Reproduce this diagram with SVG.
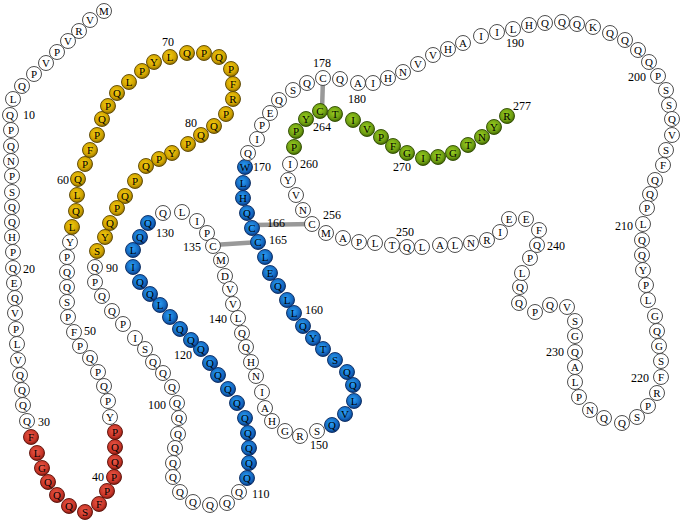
<svg xmlns="http://www.w3.org/2000/svg" width="680" height="520" viewBox="0 0 680 520" font-family="'Liberation Serif', 'DejaVu Serif', serif">
<defs>
<radialGradient id="gy" cx="45%" cy="40%" r="60%"><stop offset="0" stop-color="#f5cc10"/><stop offset="0.7" stop-color="#cfa200"/><stop offset="1" stop-color="#8a6a00"/></radialGradient>
<radialGradient id="gb" cx="45%" cy="40%" r="60%"><stop offset="0" stop-color="#2aa0f5"/><stop offset="0.7" stop-color="#1468c0"/><stop offset="1" stop-color="#0a3a80"/></radialGradient>
<radialGradient id="gr" cx="45%" cy="40%" r="60%"><stop offset="0" stop-color="#ec5a48"/><stop offset="0.7" stop-color="#c83528"/><stop offset="1" stop-color="#801a10"/></radialGradient>
<radialGradient id="gg" cx="45%" cy="40%" r="60%"><stop offset="0" stop-color="#9ad020"/><stop offset="0.7" stop-color="#6e9e12"/><stop offset="1" stop-color="#3e6200"/></radialGradient>
<style>
circle{r:7.5px;stroke:#3a3a3a;stroke-width:0.9}
.w circle{fill:#fff}
.y circle{fill:url(#gy);stroke:#5a4500}
.b circle{fill:url(#gb);stroke:#0a2a60}
.r circle{fill:url(#gr);stroke:#5a1008}
.g circle{fill:url(#gg);stroke:#2e4a00}
text{font-family:"Liberation Serif","DejaVu Serif",serif;fill:#000}
.n text{font-size:11px;text-anchor:middle}
.lab text{font-size:12px}
.m{text-anchor:middle}
.e{text-anchor:end}
.bond{stroke:#999;stroke-width:4.5;stroke-linecap:butt}
</style>
</defs>
<rect width="680" height="520" fill="#fff"/>
<g id="connectors">
<line class="bond" x1="213" y1="245" x2="258" y2="242"/>
<line class="bond" x1="252" y1="225" x2="312" y2="224"/>
<line class="bond" x1="323" y1="78" x2="322" y2="111"/>
</g>
<g id="nodes">
<g id="r1" class="n w"><circle cx="104" cy="11"/><text x="104" y="15">M</text></g>
<g id="r2" class="n w"><circle cx="90" cy="20"/><text x="90" y="24">V</text></g>
<g id="r3" class="n w"><circle cx="79" cy="31"/><text x="79" y="35">R</text></g>
<g id="r4" class="n w"><circle cx="68" cy="41"/><text x="68" y="45">V</text></g>
<g id="r5" class="n w"><circle cx="57" cy="52"/><text x="57" y="56">P</text></g>
<g id="r6" class="n w"><circle cx="46" cy="63"/><text x="46" y="67">V</text></g>
<g id="r7" class="n w"><circle cx="34" cy="74"/><text x="34" y="78">P</text></g>
<g id="r8" class="n w"><circle cx="22" cy="86"/><text x="22" y="90">Q</text></g>
<g id="r9" class="n w"><circle cx="13" cy="99"/><text x="13" y="103">L</text></g>
<g id="r10" class="n w"><circle cx="10" cy="115"/><text x="10" y="119">Q</text></g>
<g id="r11" class="n w"><circle cx="11" cy="130"/><text x="11" y="134">P</text></g>
<g id="r12" class="n w"><circle cx="11" cy="146"/><text x="11" y="150">Q</text></g>
<g id="r13" class="n w"><circle cx="11" cy="161"/><text x="11" y="165">N</text></g>
<g id="r14" class="n w"><circle cx="12" cy="176"/><text x="12" y="180">P</text></g>
<g id="r15" class="n w"><circle cx="12" cy="192"/><text x="12" y="196">S</text></g>
<g id="r16" class="n w"><circle cx="12" cy="207"/><text x="12" y="211">Q</text></g>
<g id="r17" class="n w"><circle cx="12" cy="222"/><text x="12" y="226">Q</text></g>
<g id="r18" class="n w"><circle cx="12" cy="237"/><text x="12" y="241">H</text></g>
<g id="r19" class="n w"><circle cx="13" cy="252"/><text x="13" y="256">P</text></g>
<g id="r20" class="n w"><circle cx="13" cy="268"/><text x="13" y="272">Q</text></g>
<g id="r21" class="n w"><circle cx="14" cy="283"/><text x="14" y="287">E</text></g>
<g id="r22" class="n w"><circle cx="15" cy="298"/><text x="15" y="302">Q</text></g>
<g id="r23" class="n w"><circle cx="15" cy="313"/><text x="15" y="317">V</text></g>
<g id="r24" class="n w"><circle cx="16" cy="329"/><text x="16" y="333">P</text></g>
<g id="r25" class="n w"><circle cx="17" cy="344"/><text x="17" y="348">L</text></g>
<g id="r26" class="n w"><circle cx="18" cy="360"/><text x="18" y="364">V</text></g>
<g id="r27" class="n w"><circle cx="20" cy="375"/><text x="20" y="379">Q</text></g>
<g id="r28" class="n w"><circle cx="22" cy="390"/><text x="22" y="394">Q</text></g>
<g id="r29" class="n w"><circle cx="23" cy="405"/><text x="23" y="409">Q</text></g>
<g id="r30" class="n w"><circle cx="27" cy="421"/><text x="27" y="425">Q</text></g>
<g id="r31" class="n r"><circle cx="31" cy="437"/><text x="31" y="441">F</text></g>
<g id="r32" class="n r"><circle cx="37" cy="453"/><text x="37" y="457">L</text></g>
<g id="r33" class="n r"><circle cx="42" cy="468"/><text x="42" y="472">G</text></g>
<g id="r34" class="n r"><circle cx="48" cy="482"/><text x="48" y="486">Q</text></g>
<g id="r35" class="n r"><circle cx="57" cy="495"/><text x="57" y="499">Q</text></g>
<g id="r36" class="n r"><circle cx="69" cy="506"/><text x="69" y="510">Q</text></g>
<g id="r37" class="n r"><circle cx="85" cy="512"/><text x="85" y="516">S</text></g>
<g id="r38" class="n r"><circle cx="99" cy="504"/><text x="99" y="508">F</text></g>
<g id="r39" class="n r"><circle cx="107" cy="491"/><text x="107" y="495">P</text></g>
<g id="r40" class="n r"><circle cx="114" cy="477"/><text x="114" y="481">P</text></g>
<g id="r41" class="n r"><circle cx="115" cy="462"/><text x="115" y="466">Q</text></g>
<g id="r42" class="n r"><circle cx="115" cy="447"/><text x="115" y="451">Q</text></g>
<g id="r43" class="n r"><circle cx="115" cy="432"/><text x="115" y="436">P</text></g>
<g id="r44" class="n w"><circle cx="110" cy="417"/><text x="110" y="421">Y</text></g>
<g id="r45" class="n w"><circle cx="108" cy="401"/><text x="108" y="405">P</text></g>
<g id="r46" class="n w"><circle cx="104" cy="386"/><text x="104" y="390">Q</text></g>
<g id="r47" class="n w"><circle cx="98" cy="372"/><text x="98" y="376">P</text></g>
<g id="r48" class="n w"><circle cx="90" cy="358"/><text x="90" y="362">Q</text></g>
<g id="r49" class="n w"><circle cx="80" cy="346"/><text x="80" y="350">P</text></g>
<g id="r50" class="n w"><circle cx="74" cy="332"/><text x="74" y="336">F</text></g>
<g id="r51" class="n w"><circle cx="68" cy="317"/><text x="68" y="321">P</text></g>
<g id="r52" class="n w"><circle cx="67" cy="302"/><text x="67" y="306">S</text></g>
<g id="r53" class="n w"><circle cx="67" cy="287"/><text x="67" y="291">Q</text></g>
<g id="r54" class="n w"><circle cx="67" cy="272"/><text x="67" y="276">Q</text></g>
<g id="r55" class="n w"><circle cx="67" cy="257"/><text x="67" y="261">P</text></g>
<g id="r56" class="n w"><circle cx="70" cy="242"/><text x="70" y="246">Y</text></g>
<g id="r57" class="n y"><circle cx="72" cy="227"/><text x="72" y="231">L</text></g>
<g id="r58" class="n y"><circle cx="76" cy="211"/><text x="76" y="215">Q</text></g>
<g id="r59" class="n y"><circle cx="77" cy="195"/><text x="77" y="199">L</text></g>
<g id="r60" class="n y"><circle cx="78" cy="179"/><text x="78" y="183">Q</text></g>
<g id="r61" class="n y"><circle cx="85" cy="164"/><text x="85" y="168">P</text></g>
<g id="r62" class="n y"><circle cx="90" cy="150"/><text x="90" y="154">F</text></g>
<g id="r63" class="n y"><circle cx="97" cy="135"/><text x="97" y="139">P</text></g>
<g id="r64" class="n y"><circle cx="102" cy="119"/><text x="102" y="123">Q</text></g>
<g id="r65" class="n y"><circle cx="108" cy="106"/><text x="108" y="110">P</text></g>
<g id="r66" class="n y"><circle cx="117" cy="93"/><text x="117" y="97">Q</text></g>
<g id="r67" class="n y"><circle cx="129" cy="82"/><text x="129" y="86">L</text></g>
<g id="r68" class="n y"><circle cx="142" cy="71"/><text x="142" y="75">P</text></g>
<g id="r69" class="n y"><circle cx="154" cy="62"/><text x="154" y="66">Y</text></g>
<g id="r70" class="n y"><circle cx="170" cy="57"/><text x="170" y="61">L</text></g>
<g id="r71" class="n y"><circle cx="187" cy="53"/><text x="187" y="57">Q</text></g>
<g id="r72" class="n y"><circle cx="204" cy="53"/><text x="204" y="57">P</text></g>
<g id="r73" class="n y"><circle cx="219" cy="57"/><text x="219" y="61">Q</text></g>
<g id="r74" class="n y"><circle cx="231" cy="69"/><text x="231" y="73">P</text></g>
<g id="r75" class="n y"><circle cx="233" cy="84"/><text x="233" y="88">F</text></g>
<g id="r76" class="n y"><circle cx="233" cy="99"/><text x="233" y="103">R</text></g>
<g id="r77" class="n y"><circle cx="226" cy="114"/><text x="226" y="118">P</text></g>
<g id="r78" class="n y"><circle cx="214" cy="126"/><text x="214" y="130">Q</text></g>
<g id="r79" class="n y"><circle cx="201" cy="135"/><text x="201" y="139">Q</text></g>
<g id="r80" class="n y"><circle cx="188" cy="144"/><text x="188" y="148">P</text></g>
<g id="r81" class="n y"><circle cx="172" cy="153"/><text x="172" y="157">Y</text></g>
<g id="r82" class="n y"><circle cx="159" cy="159"/><text x="159" y="163">P</text></g>
<g id="r83" class="n y"><circle cx="146" cy="166"/><text x="146" y="170">Q</text></g>
<g id="r84" class="n y"><circle cx="135" cy="181"/><text x="135" y="185">P</text></g>
<g id="r85" class="n y"><circle cx="125" cy="196"/><text x="125" y="200">Q</text></g>
<g id="r86" class="n y"><circle cx="117" cy="208"/><text x="117" y="212">P</text></g>
<g id="r87" class="n y"><circle cx="110" cy="223"/><text x="110" y="227">Q</text></g>
<g id="r88" class="n y"><circle cx="105" cy="237"/><text x="105" y="241">Y</text></g>
<g id="r89" class="n y"><circle cx="97" cy="251"/><text x="97" y="255">S</text></g>
<g id="r90" class="n w"><circle cx="95" cy="267"/><text x="95" y="271">Q</text></g>
<g id="r91" class="n w"><circle cx="95" cy="282"/><text x="95" y="286">P</text></g>
<g id="r92" class="n w"><circle cx="102" cy="296"/><text x="102" y="300">Q</text></g>
<g id="r93" class="n w"><circle cx="112" cy="311"/><text x="112" y="315">Q</text></g>
<g id="r94" class="n w"><circle cx="123" cy="324"/><text x="123" y="328">P</text></g>
<g id="r95" class="n w"><circle cx="135" cy="338"/><text x="135" y="342">I</text></g>
<g id="r96" class="n w"><circle cx="145" cy="349"/><text x="145" y="353">S</text></g>
<g id="r97" class="n w"><circle cx="153" cy="362"/><text x="153" y="366">Q</text></g>
<g id="r98" class="n w"><circle cx="163" cy="373"/><text x="163" y="377">Q</text></g>
<g id="r99" class="n w"><circle cx="172" cy="387"/><text x="172" y="391">Q</text></g>
<g id="r100" class="n w"><circle cx="177" cy="403"/><text x="177" y="407">Q</text></g>
<g id="r101" class="n w"><circle cx="179" cy="418"/><text x="179" y="422">Q</text></g>
<g id="r102" class="n w"><circle cx="178" cy="434"/><text x="178" y="438">Q</text></g>
<g id="r103" class="n w"><circle cx="175" cy="448"/><text x="175" y="452">Q</text></g>
<g id="r104" class="n w"><circle cx="173" cy="463"/><text x="173" y="467">Q</text></g>
<g id="r105" class="n w"><circle cx="173" cy="477"/><text x="173" y="481">Q</text></g>
<g id="r106" class="n w"><circle cx="180" cy="492"/><text x="180" y="496">Q</text></g>
<g id="r107" class="n w"><circle cx="193" cy="502"/><text x="193" y="506">Q</text></g>
<g id="r108" class="n w"><circle cx="210" cy="505"/><text x="210" y="509">Q</text></g>
<g id="r109" class="n w"><circle cx="227" cy="503"/><text x="227" y="507">Q</text></g>
<g id="r110" class="n w"><circle cx="239" cy="492"/><text x="239" y="496">Q</text></g>
<g id="r111" class="n b"><circle cx="247" cy="478"/><text x="247" y="482">Q</text></g>
<g id="r112" class="n b"><circle cx="249" cy="463"/><text x="249" y="467">Q</text></g>
<g id="r113" class="n b"><circle cx="249" cy="448"/><text x="249" y="452">Q</text></g>
<g id="r114" class="n b"><circle cx="248" cy="433"/><text x="248" y="437">Q</text></g>
<g id="r115" class="n b"><circle cx="245" cy="418"/><text x="245" y="422">Q</text></g>
<g id="r116" class="n b"><circle cx="237" cy="403"/><text x="237" y="407">Q</text></g>
<g id="r117" class="n b"><circle cx="228" cy="389"/><text x="228" y="393">Q</text></g>
<g id="r118" class="n b"><circle cx="218" cy="375"/><text x="218" y="379">Q</text></g>
<g id="r119" class="n b"><circle cx="210" cy="363"/><text x="210" y="367">Q</text></g>
<g id="r120" class="n b"><circle cx="201" cy="349"/><text x="201" y="353">Q</text></g>
<g id="r121" class="n b"><circle cx="191" cy="340"/><text x="191" y="344">Q</text></g>
<g id="r122" class="n b"><circle cx="180" cy="329"/><text x="180" y="333">Q</text></g>
<g id="r123" class="n b"><circle cx="170" cy="317"/><text x="170" y="321">I</text></g>
<g id="r124" class="n b"><circle cx="160" cy="305"/><text x="160" y="309">L</text></g>
<g id="r125" class="n b"><circle cx="150" cy="294"/><text x="150" y="298">Q</text></g>
<g id="r126" class="n b"><circle cx="140" cy="282"/><text x="140" y="286">Q</text></g>
<g id="r127" class="n b"><circle cx="133" cy="267"/><text x="133" y="271">I</text></g>
<g id="r128" class="n b"><circle cx="133" cy="250"/><text x="133" y="254">L</text></g>
<g id="r129" class="n b"><circle cx="140" cy="237"/><text x="140" y="241">Q</text></g>
<g id="r130" class="n b"><circle cx="148" cy="223"/><text x="148" y="227">Q</text></g>
<g id="r131" class="n w"><circle cx="163" cy="213"/><text x="163" y="217">Q</text></g>
<g id="r132" class="n w"><circle cx="182" cy="212"/><text x="182" y="216">L</text></g>
<g id="r133" class="n w"><circle cx="197" cy="221"/><text x="197" y="225">I</text></g>
<g id="r134" class="n w"><circle cx="207" cy="233"/><text x="207" y="237">P</text></g>
<g id="r135" class="n w"><circle cx="213" cy="246"/><text x="213" y="250">C</text></g>
<g id="r136" class="n w"><circle cx="221" cy="260"/><text x="221" y="264">M</text></g>
<g id="r137" class="n w"><circle cx="225" cy="276"/><text x="225" y="280">D</text></g>
<g id="r138" class="n w"><circle cx="230" cy="289"/><text x="230" y="293">V</text></g>
<g id="r139" class="n w"><circle cx="233" cy="304"/><text x="233" y="308">V</text></g>
<g id="r140" class="n w"><circle cx="238" cy="318"/><text x="238" y="322">L</text></g>
<g id="r141" class="n w"><circle cx="242" cy="333"/><text x="242" y="337">Q</text></g>
<g id="r142" class="n w"><circle cx="246" cy="347"/><text x="246" y="351">Q</text></g>
<g id="r143" class="n w"><circle cx="251" cy="362"/><text x="251" y="366">H</text></g>
<g id="r144" class="n w"><circle cx="256" cy="376"/><text x="256" y="380">N</text></g>
<g id="r145" class="n w"><circle cx="262" cy="392"/><text x="262" y="396">I</text></g>
<g id="r146" class="n w"><circle cx="265" cy="408"/><text x="265" y="412">A</text></g>
<g id="r147" class="n w"><circle cx="272" cy="421"/><text x="272" y="425">H</text></g>
<g id="r148" class="n w"><circle cx="285" cy="431"/><text x="285" y="435">G</text></g>
<g id="r149" class="n w"><circle cx="300" cy="436"/><text x="300" y="440">R</text></g>
<g id="r150" class="n w"><circle cx="317" cy="431"/><text x="317" y="435">S</text></g>
<g id="r151" class="n b"><circle cx="332" cy="425"/><text x="332" y="429">Q</text></g>
<g id="r152" class="n b"><circle cx="345" cy="414"/><text x="345" y="418">V</text></g>
<g id="r153" class="n b"><circle cx="354" cy="401"/><text x="354" y="405">L</text></g>
<g id="r154" class="n b"><circle cx="353" cy="385"/><text x="353" y="389">Q</text></g>
<g id="r155" class="n b"><circle cx="347" cy="372"/><text x="347" y="376">Q</text></g>
<g id="r156" class="n b"><circle cx="335" cy="360"/><text x="335" y="364">S</text></g>
<g id="r157" class="n b"><circle cx="323" cy="349"/><text x="323" y="353">T</text></g>
<g id="r158" class="n b"><circle cx="313" cy="338"/><text x="313" y="342">Y</text></g>
<g id="r159" class="n b"><circle cx="303" cy="326"/><text x="303" y="330">Q</text></g>
<g id="r160" class="n b"><circle cx="294" cy="313"/><text x="294" y="317">L</text></g>
<g id="r161" class="n b"><circle cx="287" cy="300"/><text x="287" y="304">L</text></g>
<g id="r162" class="n b"><circle cx="278" cy="286"/><text x="278" y="290">Q</text></g>
<g id="r163" class="n b"><circle cx="270" cy="273"/><text x="270" y="277">E</text></g>
<g id="r164" class="n b"><circle cx="265" cy="257"/><text x="265" y="261">L</text></g>
<g id="r165" class="n b"><circle cx="258" cy="242"/><text x="258" y="246">C</text></g>
<g id="r166" class="n b"><circle cx="252" cy="228"/><text x="252" y="232">C</text></g>
<g id="r167" class="n b"><circle cx="247" cy="213"/><text x="247" y="217">Q</text></g>
<g id="r168" class="n b"><circle cx="243" cy="198"/><text x="243" y="202">H</text></g>
<g id="r169" class="n b"><circle cx="243" cy="183"/><text x="243" y="187">L</text></g>
<g id="r170" class="n b"><circle cx="245" cy="167"/><text x="245" y="171">W</text></g>
<g id="r171" class="n w"><circle cx="248" cy="153"/><text x="248" y="157">Q</text></g>
<g id="r172" class="n w"><circle cx="257" cy="139"/><text x="257" y="143">I</text></g>
<g id="r173" class="n w"><circle cx="262" cy="125"/><text x="262" y="129">P</text></g>
<g id="r174" class="n w"><circle cx="270" cy="113"/><text x="270" y="117">E</text></g>
<g id="r175" class="n w"><circle cx="279" cy="100"/><text x="279" y="104">Q</text></g>
<g id="r176" class="n w"><circle cx="293" cy="90"/><text x="293" y="94">S</text></g>
<g id="r177" class="n w"><circle cx="307" cy="83"/><text x="307" y="87">Q</text></g>
<g id="r178" class="n w"><circle cx="323" cy="78"/><text x="323" y="82">C</text></g>
<g id="r179" class="n w"><circle cx="340" cy="79"/><text x="340" y="83">Q</text></g>
<g id="r180" class="n w"><circle cx="358" cy="83"/><text x="358" y="87">A</text></g>
<g id="r181" class="n w"><circle cx="373" cy="83"/><text x="373" y="87">I</text></g>
<g id="r182" class="n w"><circle cx="388" cy="78"/><text x="388" y="82">H</text></g>
<g id="r183" class="n w"><circle cx="403" cy="72"/><text x="403" y="76">N</text></g>
<g id="r184" class="n w"><circle cx="418" cy="64"/><text x="418" y="68">V</text></g>
<g id="r185" class="n w"><circle cx="433" cy="55"/><text x="433" y="59">V</text></g>
<g id="r186" class="n w"><circle cx="448" cy="49"/><text x="448" y="53">H</text></g>
<g id="r187" class="n w"><circle cx="463" cy="43"/><text x="463" y="47">A</text></g>
<g id="r188" class="n w"><circle cx="481" cy="36"/><text x="481" y="40">I</text></g>
<g id="r189" class="n w"><circle cx="497" cy="32"/><text x="497" y="36">I</text></g>
<g id="r190" class="n w"><circle cx="513" cy="29"/><text x="513" y="33">L</text></g>
<g id="r191" class="n w"><circle cx="529" cy="25"/><text x="529" y="29">H</text></g>
<g id="r192" class="n w"><circle cx="545" cy="23"/><text x="545" y="27">Q</text></g>
<g id="r193" class="n w"><circle cx="562" cy="22"/><text x="562" y="26">Q</text></g>
<g id="r194" class="n w"><circle cx="577" cy="24"/><text x="577" y="28">Q</text></g>
<g id="r195" class="n w"><circle cx="593" cy="27"/><text x="593" y="31">K</text></g>
<g id="r196" class="n w"><circle cx="610" cy="33"/><text x="610" y="37">Q</text></g>
<g id="r197" class="n w"><circle cx="625" cy="40"/><text x="625" y="44">Q</text></g>
<g id="r198" class="n w"><circle cx="638" cy="50"/><text x="638" y="54">Q</text></g>
<g id="r199" class="n w"><circle cx="649" cy="62"/><text x="649" y="66">Q</text></g>
<g id="r200" class="n w"><circle cx="658" cy="76"/><text x="658" y="80">P</text></g>
<g id="r201" class="n w"><circle cx="666" cy="90"/><text x="666" y="94">S</text></g>
<g id="r202" class="n w"><circle cx="669" cy="105"/><text x="669" y="109">S</text></g>
<g id="r203" class="n w"><circle cx="672" cy="119"/><text x="672" y="123">Q</text></g>
<g id="r204" class="n w"><circle cx="672" cy="135"/><text x="672" y="139">V</text></g>
<g id="r205" class="n w"><circle cx="666" cy="150"/><text x="666" y="154">S</text></g>
<g id="r206" class="n w"><circle cx="663" cy="165"/><text x="663" y="169">F</text></g>
<g id="r207" class="n w"><circle cx="655" cy="180"/><text x="655" y="184">Q</text></g>
<g id="r208" class="n w"><circle cx="650" cy="194"/><text x="650" y="198">Q</text></g>
<g id="r209" class="n w"><circle cx="647" cy="208"/><text x="647" y="212">P</text></g>
<g id="r210" class="n w"><circle cx="643" cy="224"/><text x="643" y="228">L</text></g>
<g id="r211" class="n w"><circle cx="642" cy="240"/><text x="642" y="244">Q</text></g>
<g id="r212" class="n w"><circle cx="642" cy="255"/><text x="642" y="259">Q</text></g>
<g id="r213" class="n w"><circle cx="643" cy="270"/><text x="643" y="274">Y</text></g>
<g id="r214" class="n w"><circle cx="646" cy="285"/><text x="646" y="289">P</text></g>
<g id="r215" class="n w"><circle cx="648" cy="300"/><text x="648" y="304">L</text></g>
<g id="r216" class="n w"><circle cx="655" cy="316"/><text x="655" y="320">G</text></g>
<g id="r217" class="n w"><circle cx="657" cy="331"/><text x="657" y="335">Q</text></g>
<g id="r218" class="n w"><circle cx="659" cy="346"/><text x="659" y="350">G</text></g>
<g id="r219" class="n w"><circle cx="661" cy="361"/><text x="661" y="365">S</text></g>
<g id="r220" class="n w"><circle cx="661" cy="377"/><text x="661" y="381">F</text></g>
<g id="r221" class="n w"><circle cx="657" cy="393"/><text x="657" y="397">R</text></g>
<g id="r222" class="n w"><circle cx="648" cy="406"/><text x="648" y="410">P</text></g>
<g id="r223" class="n w"><circle cx="637" cy="417"/><text x="637" y="421">S</text></g>
<g id="r224" class="n w"><circle cx="622" cy="423"/><text x="622" y="427">Q</text></g>
<g id="r225" class="n w"><circle cx="604" cy="418"/><text x="604" y="422">Q</text></g>
<g id="r226" class="n w"><circle cx="590" cy="410"/><text x="590" y="414">N</text></g>
<g id="r227" class="n w"><circle cx="579" cy="397"/><text x="579" y="401">P</text></g>
<g id="r228" class="n w"><circle cx="575" cy="382"/><text x="575" y="386">L</text></g>
<g id="r229" class="n w"><circle cx="575" cy="367"/><text x="575" y="371">A</text></g>
<g id="r230" class="n w"><circle cx="575" cy="352"/><text x="575" y="356">Q</text></g>
<g id="r231" class="n w"><circle cx="575" cy="336"/><text x="575" y="340">G</text></g>
<g id="r232" class="n w"><circle cx="575" cy="321"/><text x="575" y="325">S</text></g>
<g id="r233" class="n w"><circle cx="567" cy="307"/><text x="567" y="311">V</text></g>
<g id="r234" class="n w"><circle cx="550" cy="305"/><text x="550" y="309">Q</text></g>
<g id="r235" class="n w"><circle cx="535" cy="312"/><text x="535" y="316">P</text></g>
<g id="r236" class="n w"><circle cx="519" cy="303"/><text x="519" y="307">Q</text></g>
<g id="r237" class="n w"><circle cx="520" cy="287"/><text x="520" y="291">Q</text></g>
<g id="r238" class="n w"><circle cx="522" cy="273"/><text x="522" y="277">L</text></g>
<g id="r239" class="n w"><circle cx="530" cy="258"/><text x="530" y="262">P</text></g>
<g id="r240" class="n w"><circle cx="537" cy="245"/><text x="537" y="249">Q</text></g>
<g id="r241" class="n w"><circle cx="539" cy="230"/><text x="539" y="234">F</text></g>
<g id="r242" class="n w"><circle cx="526" cy="219"/><text x="526" y="223">E</text></g>
<g id="r243" class="n w"><circle cx="509" cy="219"/><text x="509" y="223">E</text></g>
<g id="r244" class="n w"><circle cx="500" cy="232"/><text x="500" y="236">I</text></g>
<g id="r245" class="n w"><circle cx="487" cy="240"/><text x="487" y="244">R</text></g>
<g id="r246" class="n w"><circle cx="471" cy="243"/><text x="471" y="247">N</text></g>
<g id="r247" class="n w"><circle cx="455" cy="245"/><text x="455" y="249">L</text></g>
<g id="r248" class="n w"><circle cx="440" cy="245"/><text x="440" y="249">A</text></g>
<g id="r249" class="n w"><circle cx="422" cy="247"/><text x="422" y="251">L</text></g>
<g id="r250" class="n w"><circle cx="407" cy="247"/><text x="407" y="251">Q</text></g>
<g id="r251" class="n w"><circle cx="392" cy="245"/><text x="392" y="249">T</text></g>
<g id="r252" class="n w"><circle cx="375" cy="243"/><text x="375" y="247">L</text></g>
<g id="r253" class="n w"><circle cx="359" cy="242"/><text x="359" y="246">P</text></g>
<g id="r254" class="n w"><circle cx="343" cy="238"/><text x="343" y="242">A</text></g>
<g id="r255" class="n w"><circle cx="326" cy="233"/><text x="326" y="237">M</text></g>
<g id="r256" class="n w"><circle cx="312" cy="224"/><text x="312" y="228">C</text></g>
<g id="r257" class="n w"><circle cx="303" cy="210"/><text x="303" y="214">N</text></g>
<g id="r258" class="n w"><circle cx="296" cy="195"/><text x="296" y="199">V</text></g>
<g id="r259" class="n w"><circle cx="288" cy="180"/><text x="288" y="184">Y</text></g>
<g id="r260" class="n w"><circle cx="290" cy="164"/><text x="290" y="168">I</text></g>
<g id="r261" class="n g"><circle cx="294" cy="147"/><text x="294" y="151">P</text></g>
<g id="r262" class="n g"><circle cx="296" cy="131"/><text x="296" y="135">P</text></g>
<g id="r263" class="n g"><circle cx="306" cy="119"/><text x="306" y="123">Y</text></g>
<g id="r264" class="n g"><circle cx="320" cy="111"/><text x="320" y="115">C</text></g>
<g id="r265" class="n g"><circle cx="335" cy="114"/><text x="335" y="118">T</text></g>
<g id="r266" class="n g"><circle cx="353" cy="120"/><text x="353" y="124">I</text></g>
<g id="r267" class="n g"><circle cx="367" cy="129"/><text x="367" y="133">V</text></g>
<g id="r268" class="n g"><circle cx="381" cy="137"/><text x="381" y="141">P</text></g>
<g id="r269" class="n g"><circle cx="393" cy="146"/><text x="393" y="150">F</text></g>
<g id="r270" class="n g"><circle cx="407" cy="153"/><text x="407" y="157">G</text></g>
<g id="r271" class="n g"><circle cx="423" cy="158"/><text x="423" y="162">I</text></g>
<g id="r272" class="n g"><circle cx="438" cy="157"/><text x="438" y="161">F</text></g>
<g id="r273" class="n g"><circle cx="453" cy="153"/><text x="453" y="157">G</text></g>
<g id="r274" class="n g"><circle cx="468" cy="145"/><text x="468" y="149">T</text></g>
<g id="r275" class="n g"><circle cx="482" cy="137"/><text x="482" y="141">N</text></g>
<g id="r276" class="n g"><circle cx="494" cy="127"/><text x="494" y="131">Y</text></g>
<g id="r277" class="n g"><circle cx="507" cy="116"/><text x="507" y="120">R</text></g>
</g>
<g id="labels" class="lab">
<text x="23" y="119">10</text>
<text x="23" y="273">20</text>
<text x="38" y="426">30</text>
<text x="104" y="481" class="e">40</text>
<text x="84" y="335">50</text>
<text x="69" y="184" class="e">60</text>
<text x="168" y="46" class="m">70</text>
<text x="191" y="127" class="m">80</text>
<text x="106" y="272">90</text>
<text x="166" y="409" class="e">100</text>
<text x="252" y="498">110</text>
<text x="192" y="359" class="e">120</text>
<text x="156" y="237">130</text>
<text x="201" y="251" class="e">135</text>
<text x="227" y="323" class="e">140</text>
<text x="310" y="449">150</text>
<text x="305" y="314">160</text>
<text x="269" y="244">165</text>
<text x="267" y="227">166</text>
<text x="253" y="171">170</text>
<text x="322" y="67" class="m">178</text>
<text x="357" y="103" class="m">180</text>
<text x="515" y="47" class="m">190</text>
<text x="646" y="81" class="e">200</text>
<text x="633" y="230" class="e">210</text>
<text x="649" y="382" class="e">220</text>
<text x="564" y="356" class="e">230</text>
<text x="547" y="250">240</text>
<text x="405" y="236" class="m">250</text>
<text x="323" y="219">256</text>
<text x="300" y="168">260</text>
<text x="322" y="131" class="m">264</text>
<text x="402" y="171" class="m">270</text>
<text x="513" y="110">277</text>
</g>
</svg>
